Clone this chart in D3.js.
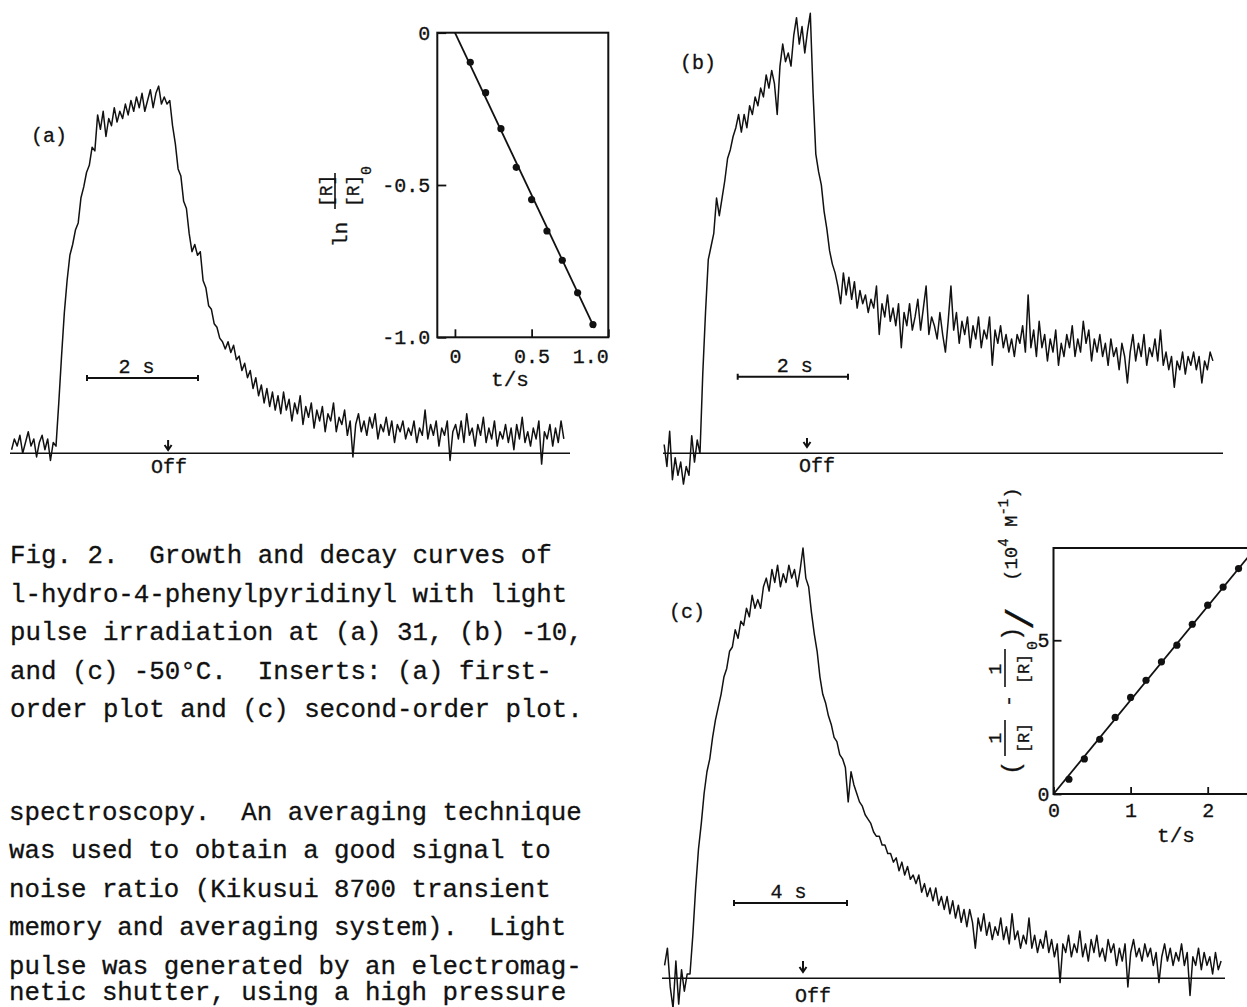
<!DOCTYPE html>
<html>
<head>
<meta charset="utf-8">
<script src="https://cdnjs.cloudflare.com/ajax/libs/d3/7.8.5/d3.min.js"></script>
<style>
body { margin: 0; background: #fff; }
svg text { font-family: "Liberation Mono", "Courier New", monospace; fill: #111; stroke: #111; stroke-width: 0.3px; }
.trace { fill: none; stroke: #111; stroke-width: 1.5; stroke-linejoin: round; }
.baseline { stroke: #111; stroke-width: 1.6; }
.bar { stroke: #111; stroke-width: 2; fill: none; }
.frame { fill: none; stroke: #111; stroke-width: 2; }
.fit { fill: none; stroke: #111; stroke-width: 1.8; }
</style>
</head>
<body>
<div id="fig"></div>
<script>
// ---- oscilloscope traces, signal in relative units (peak ~ 100) ----
// (a) 31 C, sampled every 0.05 s starting 0.8 s before the light is switched on
const traceA_t0 = -0.8, traceA_dt = 0.05;
const traceA = [
  1, 4, 2, 5, 0, 3, 6, 2, 4, -1, 3, 5, 1, 4, -2, 3,
  2, 14, 27, 39, 48, 55, 58, 62, 64, 71, 74, 78, 80, 85, 84, 94, 90, 95, 88, 93,
  91, 96, 92, 95, 93, 97, 94, 98, 95, 99, 96, 100, 95, 98, 101, 96, 100, 102, 97, 99,
  97, 98, 91, 86, 79, 77, 70, 68, 61, 56, 58, 55, 56, 48, 46, 41, 40, 36, 35, 32,
  31, 29, 31, 28, 30, 26, 27, 23, 25, 21, 23, 18, 21, 16, 19, 14, 18, 13, 17, 12,
  16, 11, 17, 12, 15, 9, 14, 11, 16, 8, 13, 10, 14, 7, 12, 9, 13, 6, 11, 9,
  14, 6, 10, 8, 12, 5, 9, -1, 8, 11, 6, 9, 5, 10, 7, 11, 4, 8, 6, 10,
  5, 9, 3, 8, 6, 9, 4, 7, 5, 9, 3, 7, 5, 12, 4, 8, 5, 9, 2, 7,
  5, 9, -2, 6, 8, 4, 9, 3, 11, 5, 7, 2, 8, 5, 10, 3, 7, 4, 9, 2,
  6, 4, 8, 3, 7, 1, 8, 4, 10, 3, 6, 2, 7, 4, 9, -3, 6, 4, 8, 2,
  7, 3, 9, 4
];

// (b) -10 C, every 0.05 s from -0.65 s
const traceB_t0 = -0.65, traceB_dt = 0.05;
const traceB = [
  2, -3, 5, -6, -1, -5, -2, -7, -3, -5, 4, -2, 3,
  0, 18, 32, 44, 47, 50, 58, 54, 58, 62, 67, 69, 72, 74, 77, 73, 77, 74, 79, 77,
  81, 79, 83, 81, 86, 83, 87, 84, 77, 88, 93, 89, 91, 88, 95, 99, 93, 97, 91, 96,
  100, 82, 68, 64, 61, 55, 51, 46, 43, 41, 38, 34, 41, 36, 40, 35, 39, 33, 37, 34,
  36, 32, 35, 33, 38, 27, 34, 31, 36, 30, 33, 29, 34, 24, 32, 29, 34, 28, 31, 35,
  28, 33, 38, 27, 31, 29, 26, 32, 27, 23, 30, 38, 28, 32, 25, 30, 27, 31, 24, 29,
  26, 31, 24, 28, 26, 31, 20, 28, 25, 29, 24, 27, 23, 26, 22, 27, 25, 29, 23, 36,
  24, 28, 22, 30, 24, 27, 21, 26, 23, 28, 20, 25, 22, 27, 24, 29, 22, 26, 23, 30,
  25, 28, 21, 26, 23, 27, 22, 25, 20, 26, 22, 24, 19, 25, 22, 16, 23, 27, 21, 25,
  22, 27, 20, 24, 22, 26, 21, 28, 20, 23, 19, 22, 15, 21, 19, 23, 18, 22, 20, 23,
  19, 22, 16, 21, 19, 23, 21
];

// (c) -50 C, every 0.1 s from -0.9 s
const traceC_t0 = -0.9, traceC_dt = 0.1;
const traceC = [
  3, 7, -2, -7, 4, -6, 2, -3, 1,
  1, 10, 21, 30, 36, 43, 48, 51, 56, 60, 63, 66, 70, 72, 76, 77, 81, 79, 83, 82,
  86, 84, 89, 86, 88, 86, 91, 93, 90, 95, 92, 96, 91, 94, 92, 96, 93, 95, 91, 95,
  100, 93, 91, 85, 80, 76, 70, 66, 64, 61, 59, 56, 55, 52, 51, 49, 41, 48, 45, 43,
  41, 40, 38, 37, 36, 34, 33, 33, 31, 31, 29, 29, 27, 28, 25, 27, 24, 26, 23, 24,
  22, 24, 20, 22, 19, 21, 18, 21, 17, 19, 16, 19, 15, 18, 14, 17, 13, 16, 12, 16,
  13, 7, 14, 11, 15, 10, 13, 9, 12, 10, 14, 9, 12, 8, 15, 9, 11, 7, 10, 8,
  14, 7, 10, 6, 9, 7, 11, 6, 9, 5, 8, -1, 8, 6, 10, 5, 8, 6, 11, 5,
  8, 4, 9, 6, 10, 5, 7, 4, 9, 6, 8, 3, 7, 4, 8, -2, 6, 9, 5, 7,
  4, 8, 5, 7, 3, 6, -1, 5, 8, 4, 7, 3, 6, 4, 8, 3, 6, -4, 5, 3,
  7, 2, 6, 3, 5, 1, 6, 2, 4
];

const panelNames = ["(a)", "(b)", "(c)"];
const scaleBarSec = [2, 2, 4];
const scaleBarText = ["2 s", "2 s", "4 s"];
const offTimes = [2.02, 1.94, 4.0];

// ---- insert (a): first-order plot ln([R]/[R]0) vs t ----
const insA_t = [0.1, 0.2, 0.3, 0.4, 0.5, 0.6, 0.7, 0.8, 0.9];
const insA_v = [-0.097, -0.197, -0.315, -0.442, -0.548, -0.651, -0.747, -0.854, -0.958];
const insA_fit = [[0, 0], [0.91, -0.97]];
const insA_yticks = [0, -0.5, -1.0];
const insA_xticks = [0, 0.5, 1.0];

// ---- insert (c): second-order plot (1/[R] - 1/[R]0) / 10^4 M^-1 vs t ----
const insC_t = [0.2, 0.4, 0.6, 0.8, 1.0, 1.2, 1.4, 1.6, 1.8, 2.0, 2.2, 2.4];
const insC_v = [0.48, 1.14, 1.78, 2.49, 3.14, 3.70, 4.30, 4.84, 5.52, 6.14, 6.73, 7.33];
const insC_fit = [[0, 0], [2.62, 8.0]];
const insC_yticks = [0, 5];
const insC_xticks = [0, 1, 2];

const captionLines = [
  "Fig. 2.  Growth and decay curves of",
  "l-hydro-4-phenylpyridinyl with light",
  "pulse irradiation at (a) 31, (b) -10,",
  "and (c) -50\u00B0C.  Inserts: (a) first-",
  "order plot and (c) second-order plot."
];
const bodyLines = [
  "spectroscopy.  An averaging technique",
  "was used to obtain a good signal to",
  "noise ratio (Kikusui 8700 transient",
  "memory and averaging system).  Light",
  "pulse was generated by an electromag-",
  "netic shutter, using a high pressure"
];

// layout of the three trace panels (pixels)
const layout = [
  {tOn: 56, pxPerSec: 55.5, base: 453.3, full: 93.3, baseFrom: 10, baseTo: 570,
   label: [31, 142], barX: 87, barY: 378, barTextDx: -6, arrow: [440, 450], offDx: 1, offY: 473},
  {tOn: 700, pxPerSec: 55.15, base: 453.3, full: 13.3, baseFrom: 663, baseTo: 1223,
   label: [680, 69], barX: 737.7, barY: 376.7, barTextDx: 2, arrow: [438, 447], offDx: 10, offY: 471.7},
  {tOn: 690, pxPerSec: 28.25, base: 978.3, full: 548, baseFrom: 662, baseTo: 1225,
   label: [669, 618], barX: 734, barY: 903, barTextDx: -2, arrow: [961, 972], offDx: 10, offY: 1001.7}
];
const traces = [
  {v: traceA, t0: traceA_t0, dt: traceA_dt},
  {v: traceB, t0: traceB_t0, dt: traceB_dt},
  {v: traceC, t0: traceC_t0, dt: traceC_dt}
];

const svg = d3.select("#fig").append("svg")
  .attr("width", 1247).attr("height", 1007);

function drawPanel(k) {
  const L = layout[k], T = traces[k];
  const x = d3.scaleLinear().domain([0, 1]).range([L.tOn, L.tOn + L.pxPerSec]);
  const y = d3.scaleLinear().domain([0, 100]).range([L.base, L.full]);
  const g = svg.append("g").attr("class", "panel");

  g.append("line").attr("class", "baseline")
    .attr("x1", L.baseFrom).attr("x2", L.baseTo)
    .attr("y1", y(0)).attr("y2", y(0));

  const line = d3.line()
    .x((d, i) => x(T.t0 + i * T.dt))
    .y(d => y(d));
  g.append("path").datum(T.v).attr("class", "trace").attr("d", line);

  // time scale bar
  const bw = x(scaleBarSec[k]) - x(0);
  g.append("path").attr("class", "bar")
    .attr("d", `M${L.barX},${L.barY}H${L.barX + bw}M${L.barX},${L.barY - 3}V${L.barY + 3}M${L.barX + bw},${L.barY - 3}V${L.barY + 3}`);
  g.append("text")
    .attr("x", L.barX + bw / 2 + L.barTextDx).attr("y", L.barY - 5)
    .attr("text-anchor", "middle").attr("font-size", 20)
    .text(scaleBarText[k]);

  // light-off marker
  const ox = x(offTimes[k]);
  g.append("path").attr("class", "bar").attr("stroke-width", 1.3)
    .attr("d", `M${ox},${L.arrow[0]}V${L.arrow[1]}M${ox - 3.5},${L.arrow[1] - 5}L${ox},${L.arrow[1]}L${ox + 3.5},${L.arrow[1] - 5}`);
  g.append("text")
    .attr("x", ox + L.offDx).attr("y", L.offY)
    .attr("text-anchor", "middle").attr("font-size", 20)
    .text("Off");

  g.append("text").attr("x", L.label[0]).attr("y", L.label[1])
    .attr("font-size", 20).text(panelNames[k]);
}
[0, 1, 2].forEach(drawPanel);

function styleAxis(sel) {
  sel.select(".domain").remove();
  sel.attr("font-size", 20);
  sel.selectAll(".tick line").attr("stroke", "#111").attr("stroke-width", 1.8);
}

// insert (a)
(function () {
  const x = d3.scaleLinear().domain([-0.115, 1.0]).range([437.3, 608.3]);
  const y = d3.scaleLinear().domain([-1, 0]).range([337.3, 32.7]);
  const g = svg.append("g").attr("class", "insert-a");
  const fmt = d => d === 0 ? "0" : d.toFixed(1);

  g.append("g").attr("transform", `translate(${x.range()[0]},0)`)
    .call(d3.axisLeft(y).tickValues(insA_yticks).tickFormat(fmt).tickSize(-9).tickPadding(7))
    .call(styleAxis);
  const xa = g.append("g").attr("transform", `translate(0,${y.range()[0]})`)
    .call(d3.axisBottom(x).tickValues(insA_xticks).tickFormat(fmt).tickSize(-8).tickPadding(11.5))
    .call(styleAxis);
  xa.selectAll(".tick text").filter(d => d === 1.0).attr("text-anchor", "end");

  g.append("rect").attr("class", "frame")
    .attr("x", x.range()[0]).attr("y", y.range()[1])
    .attr("width", x.range()[1] - x.range()[0]).attr("height", y.range()[0] - y.range()[1]);

  g.append("path").datum(insA_fit).attr("class", "fit")
    .attr("d", d3.line().x(d => x(d[0])).y(d => y(d[1])));
  g.selectAll("circle").data(insA_t).join("circle")
    .attr("cx", d => x(d)).attr("cy", (d, i) => y(insA_v[i])).attr("r", 3.6).attr("fill", "#111");

  g.append("text").attr("x", 510).attr("y", 386).attr("text-anchor", "middle")
    .attr("font-size", 21).text("t/s");

  // ln [R]/[R]0, written sideways
  const lab = g.append("g").attr("transform", "translate(347,247) rotate(-90)");
  lab.append("text").attr("x", 0).attr("y", 0).attr("font-size", 21).text("ln");
  lab.append("line").attr("x1", 38).attr("x2", 74).attr("y1", -12).attr("y2", -12)
    .attr("stroke", "#111").attr("stroke-width", 1.6);
  lab.append("text").attr("x", 40).attr("y", -15).attr("font-size", 18).text("[R]");
  lab.append("text").attr("x", 40).attr("y", 12).attr("font-size", 18).text("[R]");
  lab.append("text").attr("x", 72).attr("y", 24).attr("font-size", 15).text("0");
})();

// insert (c)
(function () {
  const x = d3.scaleLinear().domain([0, 1]).range([1053.5, 1130.6]);
  const y = d3.scaleLinear().domain([0, 8]).range([794, 548]);
  const g = svg.append("g").attr("class", "insert-c");

  g.append("g").attr("transform", `translate(${x(0)},0)`)
    .call(d3.axisLeft(y).tickValues(insC_yticks).tickFormat(d3.format("d")).tickSize(-8).tickPadding(4))
    .call(styleAxis);
  g.append("g").attr("transform", `translate(0,${y(0)})`)
    .call(d3.axisBottom(x).tickValues(insC_xticks).tickFormat(d3.format("d")).tickSize(-7).tickPadding(9))
    .call(styleAxis);

  g.append("path").attr("class", "frame")
    .attr("d", `M1300,${y(8)}H${x(0)}V${y(0)}H1300`);

  g.append("path").datum(insC_fit).attr("class", "fit")
    .attr("d", d3.line().x(d => x(d[0])).y(d => y(d[1])));
  g.selectAll("circle").data(insC_t).join("circle")
    .attr("cx", d => x(d)).attr("cy", (d, i) => y(insC_v[i])).attr("r", 3.6).attr("fill", "#111");

  g.append("text").attr("x", 1176).attr("y", 842).attr("text-anchor", "middle")
    .attr("font-size", 21).text("t/s");

  // (1/[R] - 1/[R]0) / (10^4 M^-1), written sideways
  const lab = g.append("g").attr("transform", "translate(1017,773) rotate(-90)");
  const t = (s, u, w, size, anchor) => lab.append("text").attr("x", u).attr("y", w)
    .attr("font-size", size).attr("text-anchor", anchor || "start").text(s);
  const bar = (u0, u1) => lab.append("line").attr("x1", u0).attr("x2", u1)
    .attr("y1", -12).attr("y2", -12).attr("stroke", "#111").attr("stroke-width", 1.6);
  t("(", -2, 2, 24);
  bar(17, 53);
  t("1", 35, -16, 18, "middle");
  t("[R]", 35, 12, 17, "middle");
  t("-", 72, -2, 21, "middle");
  bar(86, 124);
  t("1", 104, -16, 18, "middle");
  t("[R]", 104, 12, 17, "middle");
  t("0", 123, 20, 15);
  t(")", 132, 2, 24);
  t("/", 143, 16, 38);
  const u = lab.append("text").attr("x", 192).attr("y", 0).attr("font-size", 19);
  u.append("tspan").text("(10");
  u.append("tspan").attr("dy", -9).attr("font-size", 14).text("4");
  u.append("tspan").attr("dy", 9).text(" M");
  u.append("tspan").attr("dy", -9).attr("font-size", 14).text("-1");
  u.append("tspan").attr("dy", 9).text(")");
})();

// caption and running text
const txt = svg.append("g").attr("font-size", 25.8);
txt.selectAll("text.cap").data(captionLines).join("text").attr("class", "cap")
  .attr("x", 10).attr("y", (d, i) => 563.3 + i * 38.4)
  .style("white-space", "pre").text(d => d);
// last line sits at the page's lower edge; kept just inside it
txt.selectAll("text.body").data(bodyLines).join("text").attr("class", "body")
  .attr("x", 9).attr("y", (d, i) => Math.min(820 + i * 38.4, 1000))
  .style("white-space", "pre").text(d => d);
</script>
</body>
</html>
